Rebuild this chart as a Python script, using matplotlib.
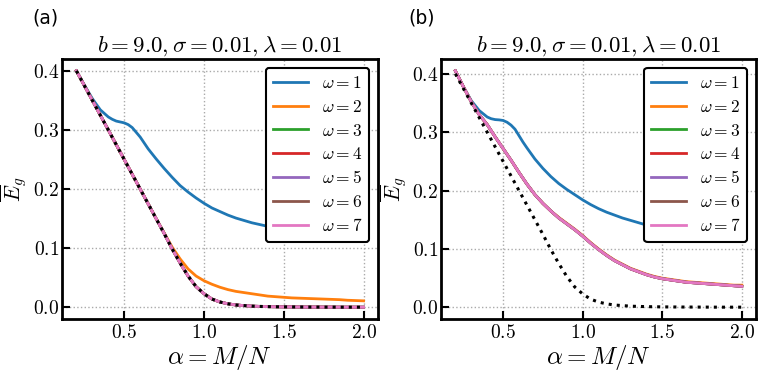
import matplotlib
matplotlib.use("Agg")
import matplotlib.pyplot as plt
from matplotlib.ticker import FuncFormatter

plt.rcParams['mathtext.fontset'] = 'cm'
plt.rcParams['font.family'] = ['DejaVu Serif']

alpha = [0.20, 0.25, 0.30, 0.35, 0.40, 0.45, 0.50, 0.55, 0.60, 0.65,
         0.70, 0.75, 0.80, 0.85, 0.90, 0.95, 1.00, 1.05, 1.10, 1.15,
         1.20, 1.25, 1.30, 1.35, 1.40, 1.45, 1.50, 1.55, 1.60, 1.65,
         1.70, 1.75, 1.80, 1.85, 1.90, 1.95, 2.00]

# finer grid for the omega=1 curves (bump near alpha=0.5)
alpha_w1 = [0.20, 0.25, 0.30, 0.35, 0.40, 0.425, 0.45, 0.475, 0.50, 0.525,
            0.55, 0.575, 0.60, 0.625, 0.65, 0.70, 0.75, 0.80, 0.85, 0.90,
            0.95, 1.00, 1.05, 1.10, 1.15, 1.20, 1.25, 1.30, 1.35, 1.40,
            1.45, 1.50, 1.55, 1.60, 1.65, 1.70, 1.75, 1.80, 1.85, 1.90,
            1.95, 2.00]

# Theory (black dotted), same in both panels
theory = [0.400, 0.375, 0.350, 0.325, 0.300, 0.275, 0.250, 0.225, 0.200, 0.175,
          0.150, 0.125, 0.099, 0.075, 0.053, 0.035, 0.023, 0.014, 0.009, 0.006,
          0.004, 0.003, 0.002, 0.0016, 0.0012, 0.0010, 0.0008, 0.0007, 0.0006, 0.0005,
          0.0005, 0.0004, 0.0004, 0.0003, 0.0003, 0.0003, 0.0003]

# Panel (a)
a_w1 = [0.400, 0.376, 0.353, 0.334, 0.322, 0.318, 0.315, 0.3135, 0.312, 0.309,
        0.304, 0.296, 0.288, 0.278, 0.268, 0.251, 0.235, 0.220, 0.206, 0.195,
        0.185, 0.176, 0.168, 0.162, 0.156, 0.151, 0.147, 0.143, 0.140, 0.137,
        0.135, 0.132, 0.130, 0.128, 0.126, 0.124, 0.122, 0.120, 0.118, 0.116,
        0.114, 0.112]
a_w2 = [0.400, 0.375, 0.350, 0.325, 0.300, 0.275, 0.250, 0.225, 0.200, 0.175,
        0.150, 0.126, 0.102, 0.082, 0.065, 0.053, 0.045, 0.039, 0.034, 0.030,
        0.027, 0.025, 0.023, 0.021, 0.019, 0.018, 0.017, 0.016, 0.0155, 0.015,
        0.0145, 0.014, 0.0135, 0.013, 0.012, 0.0115, 0.011]
a_w3to7 = theory

# Panel (b)
b_w1 = [0.405, 0.378, 0.354, 0.337, 0.326, 0.323, 0.3215, 0.321, 0.320, 0.317,
        0.312, 0.305, 0.294, 0.283, 0.273, 0.254, 0.238, 0.224, 0.212, 0.202,
        0.193, 0.184, 0.176, 0.169, 0.163, 0.158, 0.153, 0.149, 0.145, 0.141,
        0.138, 0.135, 0.133, 0.131, 0.129, 0.127, 0.125, 0.123, 0.122, 0.121,
        0.119, 0.118]
b_w2 = [0.405, 0.378, 0.352, 0.330, 0.313, 0.292, 0.272, 0.252, 0.231, 0.211,
        0.193, 0.178, 0.165, 0.154, 0.144, 0.134, 0.123, 0.111, 0.100, 0.090,
        0.081, 0.074, 0.067, 0.062, 0.057, 0.053, 0.050, 0.048, 0.046, 0.044,
        0.043, 0.042, 0.041, 0.040, 0.039, 0.038, 0.038]
b_w3to7 = [0.405, 0.378, 0.352, 0.330, 0.313, 0.292, 0.272, 0.252, 0.231, 0.211,
           0.193, 0.178, 0.165, 0.153, 0.143, 0.133, 0.122, 0.110, 0.099, 0.089,
           0.080, 0.073, 0.066, 0.061, 0.056, 0.052, 0.049, 0.047, 0.045, 0.043,
           0.042, 0.041, 0.040, 0.039, 0.038, 0.037, 0.036]

omegas = [1, 2, 3, 4, 5, 6, 7]
colors = ['#1f77b4', '#ff7f0e', '#2ca02c', '#d62728', '#9467bd', '#8c564b', '#e377c2']
title = r'$b=9.0,\sigma=0.01,\lambda=0.01$'
xticks = [0.5, 1.0, 1.5, 2.0]
yticks = [0.0, 0.1, 0.2, 0.3, 0.4]

panels = [
    ('(a)', [a_w1, a_w2] + [a_w3to7] * 5),
    ('(b)', [b_w1, b_w2] + [b_w3to7] * 5),
]

fig = plt.figure(figsize=(7.63, 3.73), dpi=100)
positions = [[0.0813, 0.1448, 0.414, 0.697], [0.578, 0.1448, 0.413, 0.697]]
label_x = [0.042, 0.535]
fmt = FuncFormatter(lambda v, p: r'$%.1f$' % v)

for (label, series), pos, lx in zip(panels, positions, label_x):
    ax = fig.add_axes(pos)
    for i, (om, col, ys) in enumerate(zip(omegas, colors, series)):
        xs = alpha_w1 if i == 0 else alpha
        ax.plot(xs, ys, color=col, lw=2, label=r'$\omega=%d$' % om)
    ax.plot(alpha, theory, color='black', ls=':', lw=2.2)
    ax.set_xticks(xticks)
    ax.set_yticks(yticks)
    ax.xaxis.set_major_formatter(fmt)
    ax.yaxis.set_major_formatter(fmt)
    ax.tick_params(direction='in', length=6, width=1.5, labelsize=14)
    ax.tick_params(axis='y', pad=2)
    ax.grid(True, ls=':', color='#aaaaaa', lw=1)
    for s in ax.spines.values():
        s.set_linewidth(2)
    ax.set_title(title, fontsize=16.5, pad=5)
    ax.set_xlabel(r'$\alpha=M/N$', fontsize=18, labelpad=1)
    ax.set_ylabel(r'$\overline{E}_g$', fontsize=15.5)
    ax.yaxis.set_label_coords(-0.1, 0.5)
    leg = ax.legend(loc='upper right', fontsize=12.5, framealpha=1, fancybox=True,
                    edgecolor='black', labelspacing=0.4)
    leg.get_frame().set_linewidth(1.5)
    fig.text(lx, 0.952, label, fontsize=13.5, family='DejaVu Sans',
             ha='left', va='center')

fig.savefig('out.png', dpi=100)
